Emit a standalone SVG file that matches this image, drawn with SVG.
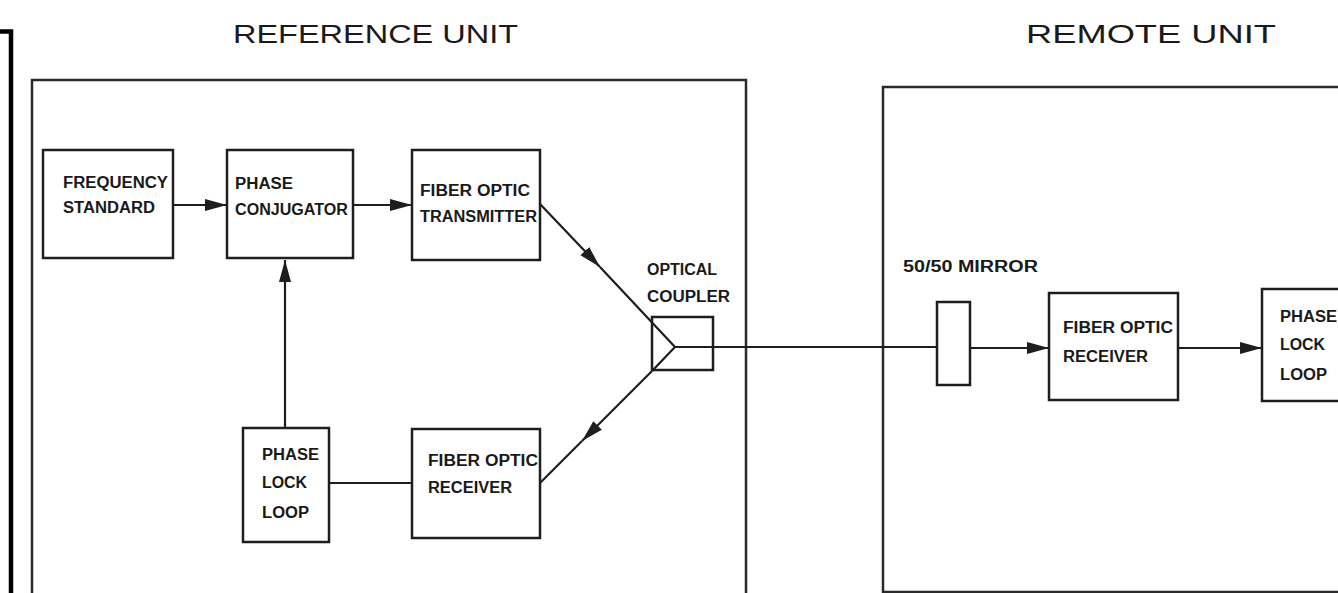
<svg xmlns="http://www.w3.org/2000/svg" width="1338" height="593" viewBox="0 0 1338 593">
<style>
.box{fill:none;stroke:#1e1e1e;stroke-width:2.5}
.frame{fill:none;stroke:#2a2a2a;stroke-width:2.5}
.ln{fill:none;stroke:#1e1e1e;stroke-width:2.2}
.lbl{font-family:"Liberation Sans",Arial,sans-serif;font-weight:bold;font-size:16px;fill:#1a1a1a}
.title{font-family:"Liberation Sans",Arial,sans-serif;font-size:25px;fill:#1a1a1a}
</style>
<defs>
<marker id="arr" markerUnits="userSpaceOnUse" markerWidth="23" markerHeight="14" refX="22" refY="7" orient="auto">
<path d="M0,1 L22,7 L0,13 Z" fill="#1e1e1e"/>
</marker>
</defs>
<rect width="1338" height="593" fill="#fff"/>
<path d="M0,31.5 H11 V593" fill="none" stroke="#000" stroke-width="4.5"/>
<g id="titles">
<text class="title" x="233" y="43" textLength="285" lengthAdjust="spacingAndGlyphs">REFERENCE UNIT</text>
<text class="title" x="1026" y="43" textLength="250" lengthAdjust="spacingAndGlyphs">REMOTE UNIT</text>
</g>
<g id="reference-unit"><rect class="frame" x="32" y="80" width="714" height="530"/></g>
<g id="remote-unit"><rect class="frame" x="883" y="87" width="480" height="505"/></g>
<g id="frequency-standard">
<rect class="box" x="43" y="150" width="130" height="108"/>
<text class="lbl" x="63" y="188" textLength="105" lengthAdjust="spacingAndGlyphs">FREQUENCY</text>
<text class="lbl" x="63" y="213" textLength="92" lengthAdjust="spacingAndGlyphs">STANDARD</text>
</g>
<g id="phase-conjugator">
<rect class="box" x="227" y="150" width="126" height="108"/>
<text class="lbl" x="235" y="189" textLength="58" lengthAdjust="spacingAndGlyphs">PHASE</text>
<text class="lbl" x="235" y="215" textLength="113" lengthAdjust="spacingAndGlyphs">CONJUGATOR</text>
</g>
<g id="fo-transmitter">
<rect class="box" x="412" y="150" width="128" height="110"/>
<text class="lbl" x="420" y="196" textLength="110" lengthAdjust="spacingAndGlyphs">FIBER OPTIC</text>
<text class="lbl" x="420" y="222" textLength="117" lengthAdjust="spacingAndGlyphs">TRANSMITTER</text>
</g>
<g id="optical-coupler">
<text class="lbl" x="647" y="275" textLength="70" lengthAdjust="spacingAndGlyphs">OPTICAL</text>
<text class="lbl" x="647" y="302" textLength="83" lengthAdjust="spacingAndGlyphs">COUPLER</text>
<rect class="box" x="652" y="317" width="61" height="53"/>
</g>
<g id="pll-ref">
<rect class="box" x="243" y="428" width="86" height="114"/>
<text class="lbl" x="262" y="460" textLength="57" lengthAdjust="spacingAndGlyphs">PHASE</text>
<text class="lbl" x="262" y="488" textLength="45" lengthAdjust="spacingAndGlyphs">LOCK</text>
<text class="lbl" x="262" y="518" textLength="47" lengthAdjust="spacingAndGlyphs">LOOP</text>
</g>
<g id="fo-receiver-ref">
<rect class="box" x="412" y="429" width="128" height="109"/>
<text class="lbl" x="428" y="466" textLength="110" lengthAdjust="spacingAndGlyphs">FIBER OPTIC</text>
<text class="lbl" x="428" y="493" textLength="84" lengthAdjust="spacingAndGlyphs">RECEIVER</text>
</g>
<g id="mirror">
<text class="lbl" x="903" y="272" textLength="135" lengthAdjust="spacingAndGlyphs">50/50 MIRROR</text>
<rect class="box" x="937" y="302" width="33" height="83"/>
</g>
<g id="fo-receiver-remote">
<rect class="box" x="1049" y="293" width="129" height="107"/>
<text class="lbl" x="1063" y="333" textLength="110" lengthAdjust="spacingAndGlyphs">FIBER OPTIC</text>
<text class="lbl" x="1063" y="362" textLength="85" lengthAdjust="spacingAndGlyphs">RECEIVER</text>
</g>
<g id="pll-remote">
<rect class="box" x="1262" y="289" width="100" height="112"/>
<text class="lbl" x="1280" y="322" textLength="57" lengthAdjust="spacingAndGlyphs">PHASE</text>
<text class="lbl" x="1280" y="350" textLength="45" lengthAdjust="spacingAndGlyphs">LOCK</text>
<text class="lbl" x="1280" y="380" textLength="47" lengthAdjust="spacingAndGlyphs">LOOP</text>
</g>
<g id="connectors">
<line class="ln" x1="173" y1="205" x2="227" y2="205" marker-end="url(#arr)"/>
<line class="ln" x1="353" y1="205" x2="412" y2="205" marker-end="url(#arr)"/>
<line class="ln" x1="540" y1="204" x2="600" y2="267" marker-end="url(#arr)"/>
<polyline class="ln" points="600,267 675,347 652,371"/>
<line class="ln" x1="652" y1="371" x2="582" y2="441" marker-end="url(#arr)"/>
<line class="ln" x1="582" y1="441" x2="540" y2="483"/>
<line class="ln" x1="675" y1="347" x2="937" y2="347"/>
<line class="ln" x1="329" y1="483" x2="412" y2="483"/>
<line class="ln" x1="285" y1="428" x2="285" y2="260" marker-end="url(#arr)"/>
<line class="ln" x1="970" y1="348" x2="1049" y2="348" marker-end="url(#arr)"/>
<line class="ln" x1="1178" y1="348" x2="1262" y2="348" marker-end="url(#arr)"/>
</g>
</svg>
